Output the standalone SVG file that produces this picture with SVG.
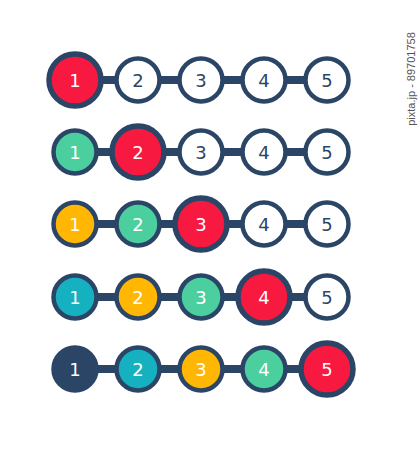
<svg xmlns="http://www.w3.org/2000/svg" width="420" height="450" viewBox="0 0 420 450">
<style>
.bar{stroke:#2b4566;stroke-width:8;fill:none}
.s{stroke:#2b4566;stroke-width:4.5}
.b{stroke:#2b4566;stroke-width:5.5}
.w{fill:#ffffff}
.r{fill:#f7193f}
.g{fill:#4ccf9f}
.y{fill:#ffb703}
.t{fill:#16b1c0}
.n{fill:#2b4566}
text{font-family:"DejaVu Sans","Open Sans",sans-serif;font-size:18px;text-anchor:middle;dominant-baseline:central}
.lw{fill:#ffffff}
.ld{fill:#2b4566}
.wm{font-family:"Liberation Sans",Arial,sans-serif;font-size:11px;fill:#555555;dominant-baseline:auto}
</style>
<rect width="420" height="450" fill="#ffffff"/>
<g id="connectors">
<line class="bar" x1="75" y1="80" x2="327" y2="80"/>
<line class="bar" x1="75" y1="152" x2="327" y2="152"/>
<line class="bar" x1="75" y1="224" x2="327" y2="224"/>
<line class="bar" x1="75" y1="297" x2="327" y2="297"/>
<line class="bar" x1="75" y1="369" x2="327" y2="369"/>
</g>
<g id="row1">
<g id="r1n1"><circle class="r b" cx="75" cy="80" r="26"/><text class="lw" x="75" y="80">1</text></g>
<g id="r1n2"><circle class="w s" cx="138" cy="80" r="21.5"/><text class="ld" x="138" y="80">2</text></g>
<g id="r1n3"><circle class="w s" cx="201" cy="80" r="21.5"/><text class="ld" x="201" y="80">3</text></g>
<g id="r1n4"><circle class="w s" cx="264" cy="80" r="21.5"/><text class="ld" x="264" y="80">4</text></g>
<g id="r1n5"><circle class="w s" cx="327" cy="80" r="21.5"/><text class="ld" x="327" y="80">5</text></g>
</g>
<g id="row2">
<g id="r2n1"><circle class="g s" cx="75" cy="152" r="21.5"/><text class="lw" x="75" y="152">1</text></g>
<g id="r2n2"><circle class="r b" cx="138" cy="152" r="26"/><text class="lw" x="138" y="152">2</text></g>
<g id="r2n3"><circle class="w s" cx="201" cy="152" r="21.5"/><text class="ld" x="201" y="152">3</text></g>
<g id="r2n4"><circle class="w s" cx="264" cy="152" r="21.5"/><text class="ld" x="264" y="152">4</text></g>
<g id="r2n5"><circle class="w s" cx="327" cy="152" r="21.5"/><text class="ld" x="327" y="152">5</text></g>
</g>
<g id="row3">
<g id="r3n1"><circle class="y s" cx="75" cy="224" r="21.5"/><text class="lw" x="75" y="224">1</text></g>
<g id="r3n2"><circle class="g s" cx="138" cy="224" r="21.5"/><text class="lw" x="138" y="224">2</text></g>
<g id="r3n3"><circle class="r b" cx="201" cy="224" r="26"/><text class="lw" x="201" y="224">3</text></g>
<g id="r3n4"><circle class="w s" cx="264" cy="224" r="21.5"/><text class="ld" x="264" y="224">4</text></g>
<g id="r3n5"><circle class="w s" cx="327" cy="224" r="21.5"/><text class="ld" x="327" y="224">5</text></g>
</g>
<g id="row4">
<g id="r4n1"><circle class="t s" cx="75" cy="297" r="21.5"/><text class="lw" x="75" y="297">1</text></g>
<g id="r4n2"><circle class="y s" cx="138" cy="297" r="21.5"/><text class="lw" x="138" y="297">2</text></g>
<g id="r4n3"><circle class="g s" cx="201" cy="297" r="21.5"/><text class="lw" x="201" y="297">3</text></g>
<g id="r4n4"><circle class="r b" cx="264" cy="297" r="26"/><text class="lw" x="264" y="297">4</text></g>
<g id="r4n5"><circle class="w s" cx="327" cy="297" r="21.5"/><text class="ld" x="327" y="297">5</text></g>
</g>
<g id="row5">
<g id="r5n1"><circle class="n s" cx="75" cy="369" r="21.5"/><text class="lw" x="75" y="369">1</text></g>
<g id="r5n2"><circle class="t s" cx="138" cy="369" r="21.5"/><text class="lw" x="138" y="369">2</text></g>
<g id="r5n3"><circle class="y s" cx="201" cy="369" r="21.5"/><text class="lw" x="201" y="369">3</text></g>
<g id="r5n4"><circle class="g s" cx="264" cy="369" r="21.5"/><text class="lw" x="264" y="369">4</text></g>
<g id="r5n5"><circle class="r b" cx="327" cy="369" r="26"/><text class="lw" x="327" y="369">5</text></g>
</g>
<text class="wm" x="0" y="0" transform="translate(415,79) rotate(-90)">pixta.jp - 89701758</text>
</svg>
